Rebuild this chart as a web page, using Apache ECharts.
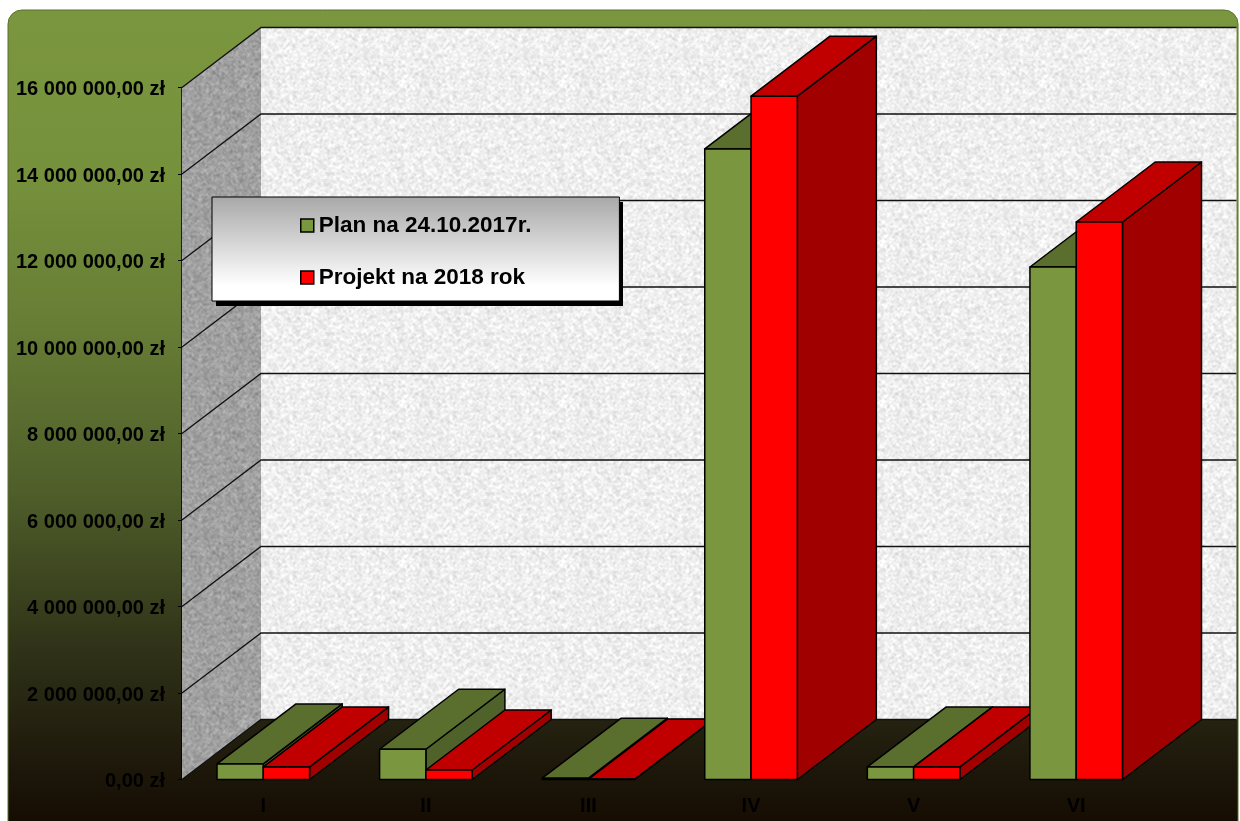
<!DOCTYPE html>
<html><head><meta charset="utf-8">
<style>html,body{margin:0;padding:0;background:#fff}#c{width:1240px;height:821px}</style>
<script src="https://cdn.jsdelivr.net/npm/echarts@6/dist/echarts.min.js"></script>
</head><body><div id="c"></div>
<script>
const categories = ['I','II','III','IV','V','VI'];
const planValues = [360000, 700000, 30000, 14580000, 290000, 11850000];
const projectValues = [290000, 220000, 10000, 15800000, 290000, 12890000];
const tickValues = [0,2000000,4000000,6000000,8000000,10000000,12000000,14000000,16000000];
const seriesNames = ['Plan na 24.10.2017r.','Projekt na 2018 rok'];

const DX = 79, DY = -60, BAR = 0.2847;
const palette = [
  {front:'#7a963e', top:'#5a6e2d', side:'#4f622a'},
  {front:'#ff0000', top:'#c00000', side:'#a00000'}
];

function texture(base, amp){
  const n = 160, cv = document.createElement('canvas');
  cv.width = cv.height = n;
  const g = cv.getContext('2d'), im = g.createImageData(n,n);
  const h = (x,y)=>{x=(x+n)%n;y=(y+n)%n;const s=Math.sin(x*12.9898+y*78.233)*43758.5453;return s-Math.floor(s);};
  for(let y=0;y<n;y++)for(let x=0;x<n;x++){
    let s=0;for(let a=-1;a<=1;a++)for(let b=-1;b<=1;b++)s+=h(x+a,y+b);
    const v=Math.max(0,Math.min(255,base+amp*(s/9-0.5)*2+(h(x,y)-0.5)*amp*0.25));
    const i=(y*n+x)*4;im.data[i]=im.data[i+1]=im.data[i+2]=v;im.data[i+3]=255;
  }
  g.putImageData(im,0,0);
  return {image:cv,repeat:'repeat'};
}
const backTex = texture(238,34), sideTex = texture(160,36);
const BLACK = '#000';

function poly(pts, fill, z2){
  return {type:'polygon',shape:{points:pts},z2,style:{fill,stroke:BLACK,lineWidth:1.5,lineJoin:'round'}};
}
function wallItem(params, api){
  const cs = params.coordSys;
  const y = api.coord([0, api.value(1)])[1];
  const L = cs.x, R = cs.x + cs.width;
  const children = [];
  if(params.dataIndex === 0){
    const T = cs.y, B = cs.y + cs.height;
    children.push({type:'polygon',z2:0,shape:{points:[[L+DX,T+DY],[R+DX,T+DY],[R+DX,B+DY],[L+DX,B+DY]]},style:{fill:backTex}});
    children.push({type:'polygon',z2:0,shape:{points:[[L,T],[L+DX,T+DY],[L+DX,B+DY],[L,B]]},style:{fill:sideTex}});
  }
  children.push({type:'polyline',z2:1,shape:{points:[[L,y],[L+DX,y+DY],[R+DX,y+DY]]},style:{fill:null,stroke:'#111',lineWidth:1.3}});
  return {type:'group',children};
}
function barItem(si){
  return function(params, api){
    const c = palette[si], cat = api.value(0);
    const top = api.coord([cat, api.value(1)]), base = api.coord([cat, 0]);
    const w = api.size([1,0])[0]*BAR;
    const x0 = si===0 ? top[0]-w : top[0], x1 = x0+w;
    const yT = top[1], yB = base[1], z = 10 + cat*3 + si*1.5;
    return {type:'group',children:[
      poly([[x1,yT],[x1+DX,yT+DY],[x1+DX,yB+DY],[x1,yB]], c.side, z),
      poly([[x0,yT],[x0+DX,yT+DY],[x1+DX,yT+DY],[x1,yT]], c.top, z),
      poly([[x0,yT],[x1,yT],[x1,yB],[x0,yB]], c.front, z)
    ]};
  };
}
const fmt = v => String(v).replace(/\B(?=(\d{3})+$)/g,' ') + ',00 zł';
const FONT = '"Liberation Sans"';

const chart = echarts.init(document.getElementById('c'), null, {renderer:'canvas'});
chart.setOption({
  animation:false,
  graphic:[
    {type:'rect',z:-10,silent:true,
    shape:{x:8,y:10,width:1230,height:830,r:[14,14,0,0]},
    style:{stroke:'#5c7030',lineWidth:1,fill:{type:'linear',x:0,y:0,x2:0,y2:1,colorStops:[
      {offset:0,color:'#7a963e'},{offset:.2,color:'#76913c'},{offset:.38,color:'#677d35'},
      {offset:.58,color:'#4f5e2a'},{offset:.78,color:'#2e3017'},{offset:.9,color:'#1f1a0c'},{offset:1,color:'#130800'}]}}},
    {type:'rect',z:3,silent:true,shape:{x:216,y:202,width:407,height:104},style:{fill:'#000'}}
  ],
  grid:{left:182,top:87.5,width:975.5,height:692},
  legend:{
    data:seriesNames, orient:'vertical', left:212, top:197, selectedMode:false,
    padding:[17,88,12,88], itemGap:29, itemWidth:13, itemHeight:13, icon:'rect',
    itemStyle:{borderColor:'#000',borderWidth:1.5},
    textStyle:{fontFamily:FONT,fontWeight:'bold',fontSize:22.5,color:'#000'},
    backgroundColor:{type:'linear',x:0,y:0,x2:0,y2:1,colorStops:[{offset:0,color:'#a8a8a8'},{offset:.85,color:'#fff'},{offset:1,color:'#fff'}]},
    borderColor:'#000',borderWidth:1
  },
  xAxis:{type:'category',data:categories,
    axisLine:{show:false},axisTick:{show:false},
    axisLabel:{margin:17,fontFamily:FONT,fontWeight:'bold',fontSize:20,color:'#000'}},
  yAxis:{type:'value',min:0,max:16000000,interval:2000000,
    axisLine:{show:true,lineStyle:{color:'#000',width:1.5}},
    axisTick:{show:true,length:4,lineStyle:{color:'#000'}},
    splitLine:{show:false},
    axisLabel:{margin:17,formatter:fmt,fontFamily:FONT,fontWeight:'bold',fontSize:20,color:'#000',verticalAlign:'top',lineHeight:4}},
  series:[
    {type:'custom',name:'walls',z:1,silent:true,renderItem:wallItem,encode:{x:0,y:1},data:tickValues.map(v=>[0,v])},
    {type:'custom',name:seriesNames[0],z:2,silent:true,itemStyle:{color:palette[0].front},renderItem:barItem(0),encode:{x:0,y:1},
      data:planValues.map((v,i)=>[i,v])},
    {type:'custom',name:seriesNames[1],z:2,silent:true,itemStyle:{color:palette[1].front},renderItem:barItem(1),encode:{x:0,y:1},
      data:projectValues.map((v,i)=>[i,v])}
  ]
});
</script></body></html>
